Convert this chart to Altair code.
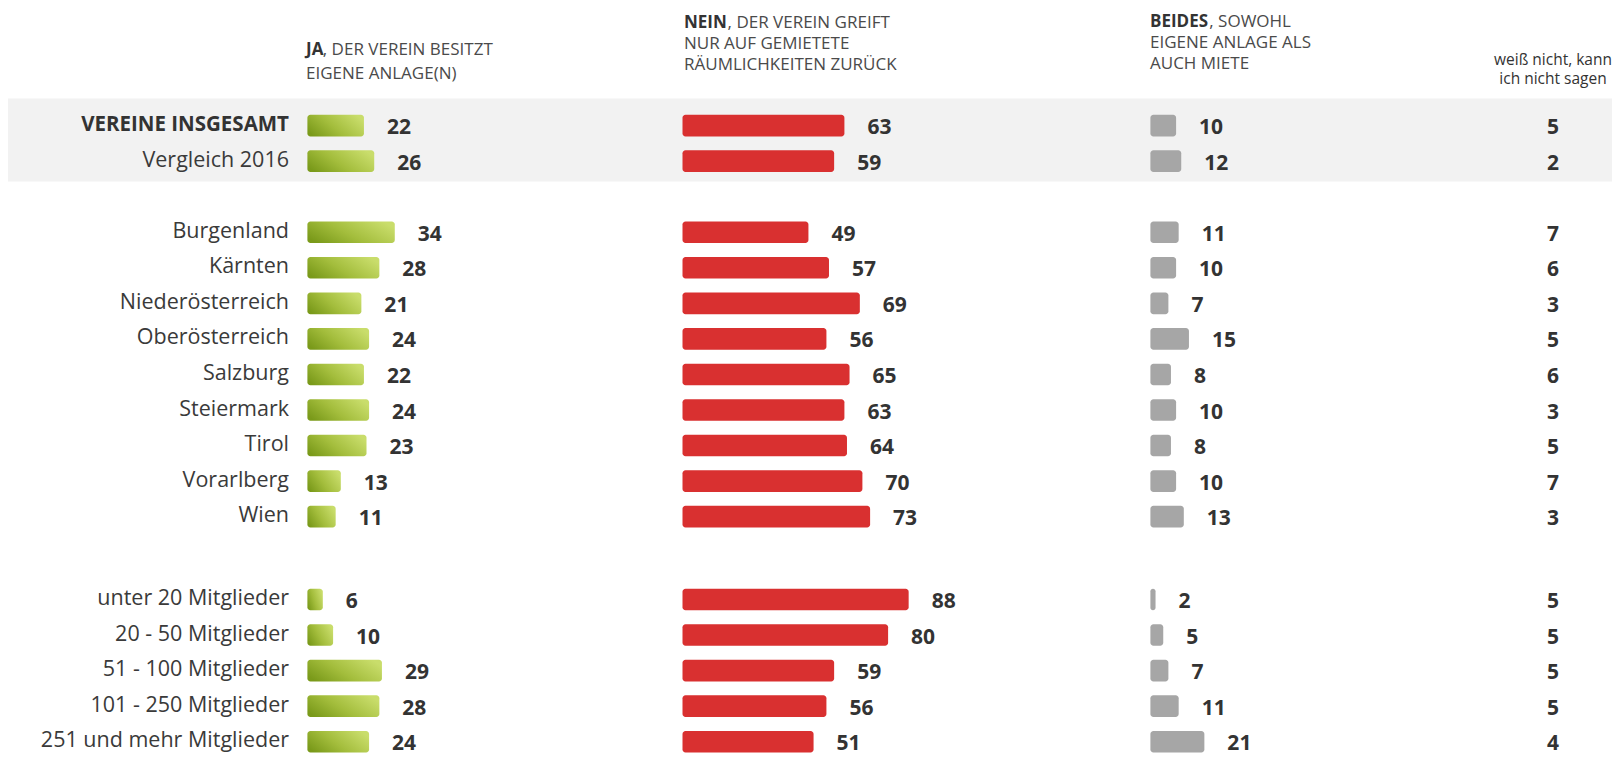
import altair as alt
import pandas as pd

# ---------------- data ----------------
labels = [
    "VEREINE INSGESAMT", "Vergleich 2016",
    "Burgenland", "Kärnten", "Niederösterreich", "Oberösterreich", "Salzburg",
    "Steiermark", "Tirol", "Vorarlberg", "Wien",
    "unter 20 Mitglieder", "20 - 50 Mitglieder", "51 - 100 Mitglieder",
    "101 - 250 Mitglieder", "251 und mehr Mitglieder",
]
ja = [22, 26, 34, 28, 21, 24, 22, 24, 23, 13, 11, 6, 10, 29, 28, 24]
nein = [63, 59, 49, 57, 69, 56, 65, 63, 64, 70, 73, 88, 80, 59, 56, 51]
beides = [10, 12, 11, 10, 7, 15, 8, 10, 8, 10, 13, 2, 5, 7, 11, 21]
weiss = [5, 2, 7, 6, 3, 5, 6, 3, 5, 7, 3, 5, 5, 5, 5, 4]
section = [0, 0, 1, 1, 1, 1, 1, 1, 1, 1, 1, 2, 2, 2, 2, 2]

header_bold = ["JA", "NEIN", "BEIDES"]
header_first_rest = [", DER VEREIN BESITZT", ", DER VEREIN GREIFT", ", SOWOHL"]
header_more_lines = [
    ["EIGENE ANLAGE(N)"],
    ["NUR AUF GEMIETETE", "RÄUMLICHKEITEN ZURÜCK"],
    ["EIGENE ANLAGE ALS", "AUCH MIETE"],
]
header_last = ["weiß nicht, kann", "ich nicht sagen"]

# ---------------- layout ----------------
W, H = 1604, 749
PX_PER_UNIT = 2.57
ROW_PX = 35.55
ROW0_PAGE = 125.6          # page y of the first row centre
HEAD_SHIFT = -2            # vertical shift of the header block (px)
X_MAX = W / PX_PER_UNIT
Y_MIN = (8 - ROW0_PAGE) / ROW_PX
Y_MAX = Y_MIN + H / ROW_PX
FONT = "Open Sans"
HEAD_SIZE = 17


def ux(page_x):
    return (page_x - 8) / PX_PER_UNIT


def uy_body(ref_y):
    # reference y of body elements (first row centre at 137.2)
    return (ref_y - 137.2) / ROW_PX


def uy_head(ref_y):
    return (ref_y + HEAD_SHIFT - ROW0_PAGE) / ROW_PX


LABEL_X = ux(289)
COL_START = [ux(307.4), ux(682.5), ux(1150.4)]
LAST_X = ux(1553)
SECTION_START = [0, 3, 13.33]
HALF = 10.8 / ROW_PX
BOLD_W = [16.8, 43.6, 59.3]   # rendered width of bold header words (px)

pos = []
counts = {}
for s in section:
    i = counts.get(s, 0)
    pos.append(SECTION_START[s] + i)
    counts[s] = i + 1

df = pd.DataFrame({
    "label": labels, "ja": ja, "nein": nein, "beides": beides,
    "weiss": weiss, "pos": pos, "row": list(range(len(labels))),
})

xs = alt.Scale(domain=[0, X_MAX], nice=False, zero=False)
ys = alt.Scale(domain=[Y_MIN, Y_MAX], nice=False, zero=False, reverse=True)

base = alt.Chart(df).transform_calculate(
    ya=f"datum.pos - {HALF}", yb=f"datum.pos + {HALF}"
)

green = alt.LinearGradient(
    gradient="linear",
    stops=[alt.GradientStop(color="#7a9a1a", offset=0),
           alt.GradientStop(color="#a3bd3c", offset=0.45),
           alt.GradientStop(color="#c9dd6b", offset=1)],
    x1=0, y1=0.75, x2=1, y2=0.3,
)
colors = [green, "#d93030", "#a6a6a6"]
fields = ["ja", "nein", "beides"]


def bar_layer(field, start, color):
    return base.transform_calculate(
        x0=f"{start}", x1=f"{start} + datum.{field}"
    ).mark_rect(cornerRadius=3, color=color).encode(
        x=alt.X("x0:Q", scale=xs, axis=None),
        x2="x1:Q",
        y=alt.Y("ya:Q", scale=ys, axis=None),
        y2="yb:Q",
    )


def value_layer(field, start):
    return base.transform_calculate(
        x1=f"{start} + datum.{field}"
    ).mark_text(
        align="left", baseline="alphabetic", dx=23, dy=8.5, font=FONT,
        fontSize=21, fontWeight="bold", color="#333333",
    ).encode(
        x=alt.X("x1:Q", scale=xs, axis=None),
        y=alt.Y("pos:Q", scale=ys, axis=None),
        text=alt.Text(f"{field}:Q"),
    )


band = alt.Chart(pd.DataFrame({"a": [0]})).mark_rect(color="#f2f2f2").encode(
    x=alt.X(datum=0, scale=xs, axis=None),
    x2=alt.X2(datum=X_MAX),
    y=alt.Y(datum=uy_body(110), scale=ys, axis=None),
    y2=alt.Y2(datum=uy_body(193)),
)

layers = [band]
for f, c0, col in zip(fields, COL_START, colors):
    layers.append(bar_layer(f, c0, col))
    layers.append(value_layer(f, c0))

weiss_layer = base.transform_calculate(xw=f"{LAST_X}").mark_text(
    align="center", baseline="alphabetic", dy=8.5, font=FONT, fontSize=21,
    fontWeight="bold", color="#333333",
).encode(
    x=alt.X("xw:Q", scale=xs, axis=None),
    y=alt.Y("pos:Q", scale=ys, axis=None),
    text=alt.Text("weiss:Q"),
)
layers.append(weiss_layer)

label_bold = base.transform_filter("datum.row == 0").transform_calculate(
    xl=f"{LABEL_X}"
).mark_text(
    align="right", baseline="alphabetic", dy=5.5, font=FONT, fontSize=20.5,
    fontWeight="bold", color="#333333",
).encode(
    x=alt.X("xl:Q", scale=xs, axis=None),
    y=alt.Y("pos:Q", scale=ys, axis=None),
    text="label:N",
)
label_reg = base.transform_filter("datum.row > 0").transform_calculate(
    xl=f"{LABEL_X}"
).mark_text(
    align="right", baseline="alphabetic", dy=5.5, font=FONT, fontSize=21.5,
    color="#3a3a3a",
).encode(
    x=alt.X("xl:Q", scale=xs, axis=None),
    y=alt.Y("pos:Q", scale=ys, axis=None),
    text="label:N",
)
layers += [label_bold, label_reg]

# ---------------- headers ----------------
head_x = [ux(306), ux(684), ux(1150)]
first_y = [uy_head(57.3), uy_head(30.0), uy_head(29.3)]
hb = pd.DataFrame({"t": header_bold, "x": head_x, "y": first_y})
hr = pd.DataFrame({
    "t": header_first_rest,
    "x": [hx + bw / PX_PER_UNIT for hx, bw in zip(head_x, BOLD_W)],
    "y": first_y,
})
hm = pd.DataFrame({
    "t": header_more_lines,
    "x": head_x,
    "y": [uy_head(80.8), uy_head(51.0), uy_head(50.3)],
})
hl = pd.DataFrame({"t": [header_last], "x": [LAST_X], "y": [uy_head(66.7)]})

head_enc = dict(
    x=alt.X("x:Q", scale=xs, axis=None),
    y=alt.Y("y:Q", scale=ys, axis=None),
    text="t",
)
layers.append(alt.Chart(hb).mark_text(
    align="left", baseline="alphabetic", font=FONT, fontSize=HEAD_SIZE,
    fontWeight="bold", color="#333333").encode(**head_enc))
layers.append(alt.Chart(hr).mark_text(
    align="left", baseline="alphabetic", font=FONT, fontSize=HEAD_SIZE,
    color="#4a4a4a").encode(**head_enc))
layers.append(alt.Chart(hm).mark_text(
    align="left", baseline="alphabetic", font=FONT, fontSize=HEAD_SIZE,
    lineHeight=21, color="#4a4a4a").encode(**head_enc))
layers.append(alt.Chart(hl).mark_text(
    align="center", baseline="alphabetic", font=FONT, fontSize=15.5,
    lineHeight=19, color="#333333").encode(**head_enc))

chart = alt.layer(*layers).properties(
    width=W, height=H, padding=0,
    autosize=alt.AutoSizeParams(type="none"),
).configure_view(stroke=None)

chart.save("out.html", embed_options={"renderer": "svg", "actions": False})
